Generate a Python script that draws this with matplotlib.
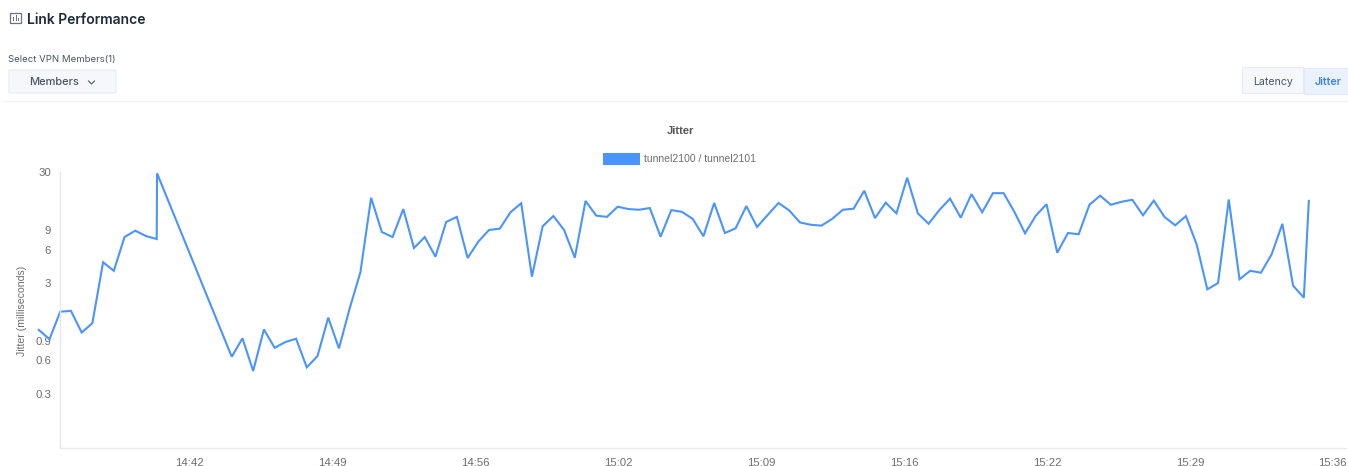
import pandas as pd
import matplotlib
matplotlib.use("Agg")
import matplotlib.pyplot as plt
import matplotlib.dates as mdates
from matplotlib.patches import FancyBboxPatch, Rectangle

# sample times, one row per stretch of the line
times = [
    "14:35:38", "14:36:08", "14:36:38", "14:37:08", "14:37:38", "14:38:08", "14:38:38", "14:39:08",
    "14:39:38", "14:40:08", "14:40:38", "14:41:08", "14:41:09",
    "14:44:38", "14:45:08", "14:45:38", "14:46:08", "14:46:38", "14:47:08", "14:47:38", "14:48:08",
    "14:48:38", "14:49:08", "14:49:38", "14:50:08", "14:50:38", "14:51:08", "14:51:38", "14:52:08",
    "14:52:38", "14:53:08", "14:53:38", "14:54:08", "14:54:38", "14:55:08", "14:55:38", "14:56:08",
    "14:56:38", "14:57:08", "14:57:38", "14:58:08", "14:58:38", "14:59:08", "14:59:38", "15:00:08",
    "15:00:38", "15:01:08", "15:01:38", "15:02:08", "15:02:38", "15:03:08", "15:03:38", "15:04:08",
    "15:04:38", "15:05:08", "15:05:38", "15:06:08", "15:06:38", "15:07:08", "15:07:38", "15:08:08",
    "15:08:38", "15:09:08", "15:09:38", "15:10:08", "15:10:38", "15:11:08", "15:11:38", "15:12:08",
    "15:12:38", "15:13:08", "15:13:38", "15:14:08", "15:14:38", "15:15:08", "15:15:38", "15:16:08",
    "15:16:38", "15:17:08", "15:17:38", "15:18:08", "15:18:38", "15:19:08", "15:19:38", "15:20:08",
    "15:20:38", "15:21:08", "15:21:38", "15:22:08", "15:22:38", "15:23:08", "15:23:38", "15:24:08",
    "15:24:38", "15:25:08", "15:25:38", "15:26:08", "15:26:38", "15:27:08", "15:27:38", "15:28:08",
    "15:28:38", "15:29:08", "15:29:38", "15:30:08", "15:30:38", "15:31:08", "15:31:38", "15:32:08",
    "15:32:38", "15:33:08", "15:33:38", "15:34:08", "15:34:38", "15:34:52",
]

jitter = [
    1.13, 0.93, 1.65, 1.68, 1.07, 1.30, 4.62, 3.87,
    7.82, 8.92, 7.98, 7.50, 29.5,
    0.646, 0.948, 0.48, 1.14, 0.778, 0.877, 0.94, 0.518,
    0.655, 1.46, 0.769, 1.77, 3.75, 17.7, 8.68, 7.82,
    14.0, 6.22, 7.82, 5.19, 10.7, 11.9, 5.05, 7.10,
    9.06, 9.30, 13.1, 15.8, 3.42, 9.78, 12.1, 9.06,
    5.08, 16.6, 12.2, 11.9, 14.7, 14.0, 13.8, 14.3,
    7.87, 13.7, 13.2, 11.4, 7.94, 15.9, 8.50, 9.38,
    14.9, 9.64, 12.4, 15.9, 13.6, 10.6, 10.1, 9.91,
    11.4, 13.8, 14.1, 20.5, 11.6, 16.0, 12.8, 26.9,
    12.8, 10.3, 13.7, 17.4, 11.7, 19.1, 13.1, 19.5,
    19.5, 13.2, 8.45, 12.2, 15.5, 5.64, 8.50, 8.28,
    15.3, 18.5, 15.3, 16.3, 17.0, 12.3, 16.7, 11.9,
    9.98, 12.1, 6.71, 2.63, 3.0, 17.1, 3.24, 3.87,
    3.72, 5.46, 10.3, 2.84, 2.21, 16.6,
]

x_ticks = ["14:42:40", "14:49:20", "14:56:00", "15:02:40", "15:09:20", "15:16:00", "15:22:40", "15:29:20", "15:35:57"]
x_labels = ["14:42", "14:49", "14:56", "15:02", "15:09", "15:16", "15:22", "15:29", "15:36"]
y_ticks = [0.3, 0.6, 0.9, 3, 6, 9, 30]
y_labels = ["0.3", "0.6", "0.9", "3", "6", "9", "30"]

W, H = 1348, 466
BLUE = "#4a94ff"
GREY = "#6e6e6e"


def to_time(values):
    return mdates.date2num(pd.to_datetime(["2024-01-01 " + v for v in values]))


def fx(px):
    return px / W


def fy(py):
    return 1 - py / H


fig = plt.figure(figsize=(W / 100, H / 100), dpi=100, facecolor="white")

# plot area, x limits line up with the axis line in the picture
ax = fig.add_axes([fx(59.5), fy(448), fx(1346 - 59.5), (448 - 172) / H])
ax.plot(to_time(times), jitter, color=BLUE, linewidth=1.5, clip_on=False, solid_joinstyle="miter")
ax.set_yscale("log")
ax.set_ylim(0.0965, 30.3)
ax.set_xlim(to_time(["14:36:36"])[0], to_time(["15:36:36"])[0])
ax.set_xticks(to_time(x_ticks))
ax.set_xticklabels(x_labels)
ax.set_yticks(y_ticks)
ax.set_yticklabels(y_labels)
ax.minorticks_off()
ax.tick_params(axis="both", length=0, labelsize=8.2, labelcolor=GREY)
ax.tick_params(axis="x", pad=7)
ax.tick_params(axis="y", pad=6)
for label in ax.get_xticklabels() + ax.get_yticklabels():
    label.set_fontfamily("Liberation Sans")
for side in ("top", "right"):
    ax.spines[side].set_visible(False)
for side in ("left", "bottom"):
    ax.spines[side].set_color("#e8e8e8")
    ax.spines[side].set_linewidth(1)

fig.text(fx(22.5), fy(311), "Jitter (milliseconds)", rotation=90, ha="center", va="center",
         fontsize=7.6, color=GREY, family="Liberation Sans")

# chart title and legend
fig.text(fx(680), fy(130.5), "Jitter", ha="center", va="center", fontsize=8, fontweight="bold",
         color="#555555", family="Liberation Sans")
fig.patches.append(Rectangle((fx(603), fy(165)), 37 / W, 12 / H, transform=fig.transFigure, color=BLUE, lw=0))
fig.text(fx(644), fy(159.5), "tunnel2100 / tunnel2101", ha="left", va="center", fontsize=7.5,
         color=GREY, family="Liberation Sans")

# page header
fig.patches.append(Rectangle((fx(10), fy(23)), 11 / W, 10 / H, transform=fig.transFigure,
                             facecolor="none", edgecolor="#6b7280", lw=0.9))
for bx, bh in [(13, 4), (15.5, 6), (18, 3)]:
    fig.patches.append(Rectangle((fx(bx), fy(21)), 1 / W, bh / H, transform=fig.transFigure,
                                 color="#6b7280", lw=0))
fig.text(fx(27), fy(19.5), "Link Performance", ha="left", va="center", fontsize=10, fontweight="semibold",
         color="#1f2937", family="Inter")
fig.text(fx(8), fy(60), "Select VPN Members(1)", ha="left", va="center", fontsize=6.9,
         color="#4b5563", family="Inter")

# members dropdown
fig.patches.append(FancyBboxPatch((fx(9), fy(93)), 107 / W, 23 / H, boxstyle="round,pad=0,rounding_size=0.002",
                                  transform=fig.transFigure, facecolor="#f5f7fb", edgecolor="#e8ebf1", lw=0.8))
fig.text(fx(54), fy(82), "Members", ha="center", va="center", fontsize=8, fontweight="medium",
         color="#4b5563", family="Inter")
fig.add_artist(plt.Line2D([fx(88.5), fx(91.5), fx(94.5)], [fy(81), fy(84), fy(81)], color="#4b5563", lw=0.8))

# latency / jitter toggle
fig.patches.append(FancyBboxPatch((fx(1242.5), fy(93.5)), 61 / W, 26 / H, boxstyle="round,pad=0,rounding_size=0.002",
                                  transform=fig.transFigure, facecolor="#f5f7fb", edgecolor="#e8ebf1", lw=0.8))
fig.patches.append(Rectangle((fx(1303.5), fy(93.5)), 44.5 / W, 26 / H, transform=fig.transFigure,
                             facecolor="#eaf2ff", edgecolor="#e4e9f2", lw=0.8))
fig.text(fx(1273), fy(82), "Latency", ha="center", va="center", fontsize=7.6, color="#4b5563", family="Inter")
fig.text(fx(1328), fy(82), "Jitter", ha="center", va="center", fontsize=7.6, fontweight="semibold",
         color="#3b82f6", family="Inter")

# divider under the controls
fig.add_artist(plt.Line2D([fx(3), 1], [fy(101), fy(101)], color="#f0f1f3", lw=1))

fig.savefig("out.png", dpi=100)
plt.close(fig)
